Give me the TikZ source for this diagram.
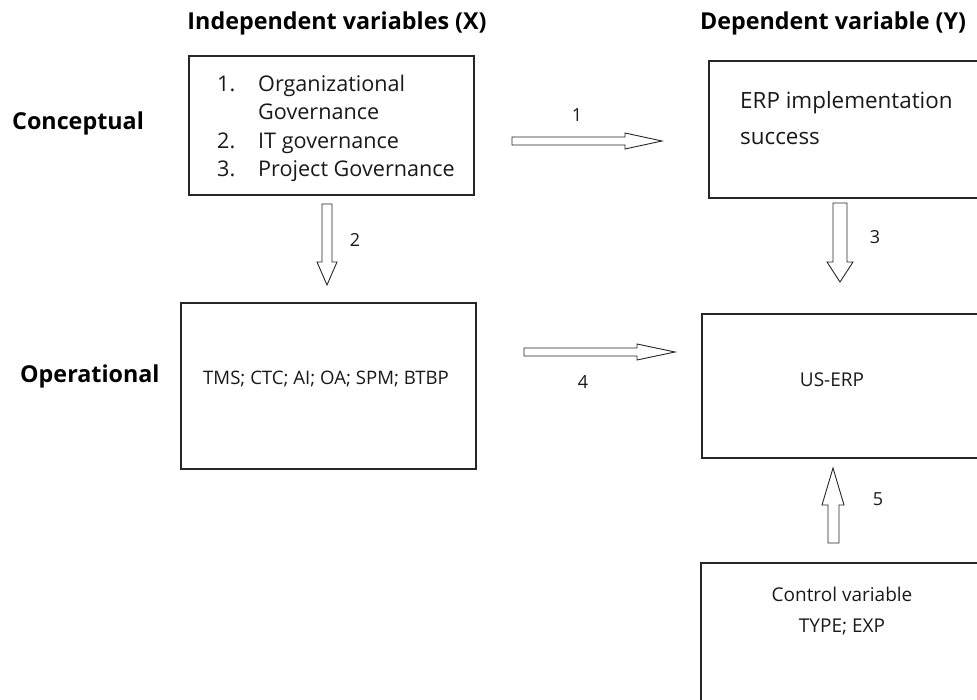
\documentclass[tikz,border=0pt]{standalone}
\usepackage{fontspec}
\setmainfont{Open Sans}
\begin{document}
\begin{tikzpicture}[x=1pt,y=-1pt,
  box/.style={draw=black!85, line width=1.2pt, rectangle, inner sep=0pt},
  blockarrow/.style={draw=black!85, line width=0.9pt, fill=white, line join=miter},
  heading/.style={font=\fontsize{23.3}{28}\selectfont\bfseries, text=black, inner sep=0pt},
  body/.style={font=\fontsize{19}{23}\selectfont, text=black!90, inner sep=0pt},
  num/.style={font=\fontsize{18}{22}\selectfont, text=black!90, inner sep=0pt}]
\useasboundingbox (0,0) rectangle (977,700);
\clip (0,0) rectangle (977,700);

% column and row headings
\node[heading] (hx) at (337,23) {Independent variables (X)};
\node[heading] (hy) at (833,23) {Dependent variable (Y)};
\node[heading, anchor=west] (hc) at (12,123) {Conceptual};
\node[heading, anchor=west] (ho) at (20,376) {Operational};

% boxes
\node[box, minimum width=285, minimum height=139] (indep) at (331.5,125.5) {};
\node[box, minimum width=295, minimum height=166] (oper) at (328.5,386) {};
\node[box, minimum width=300, minimum height=137] (erp) at (859,129.5) {};
\node[box, minimum width=300, minimum height=144] (userp) at (852,386) {};
\node[box, minimum width=300, minimum height=180] (ctrl) at (851,653) {};

% box contents
\node[body, font=\fontsize{21.6}{28.5}\selectfont, anchor=north west] (list) at (217,71)
  {\begin{tabular}{@{}p{41pt}@{}l@{}}
   1. & Organizational\\
      & Governance\\
   2. & IT governance\\
   3. & Project Governance
   \end{tabular}};
\node[body, font=\fontsize{22.4}{27}\selectfont, anchor=base west] (erptext) at (740,109)
  {ERP implementation};
\node[body, font=\fontsize{22.4}{27}\selectfont, anchor=base west] (erptext2) at (740,145)
  {success};
\node[body, font=\fontsize{18.6}{22}\selectfont, anchor=west] (optext) at (203,379) {TMS; CTC; AI; OA; SPM; BTBP};
\node[body] (ustext) at (832,380) {US-ERP};
\node[body] (ctext) at (842,594) {Control variable};
\node[body] (ctext2) at (842,627) {TYPE; EXP};

% block arrows
% 1: conceptual X -> Y
\draw[blockarrow] (512,137) -- (625,137) -- (625,133) -- (662,141) -- (625,149) -- (625,145) -- (512,145) -- cycle;
% 2: conceptual X -> operational X
\draw[blockarrow] (322,204) -- (332,204) -- (332,262) -- (337,262) -- (327,285) -- (317,262) -- (322,262) -- cycle;
% 3: conceptual Y -> operational Y
\draw[blockarrow] (833,203) -- (847,203) -- (847,262) -- (853,262) -- (840,282) -- (827,262) -- (833,262) -- cycle;
% 4: operational X -> operational Y
\draw[blockarrow] (524,348) -- (637,348) -- (637,344) -- (675,352) -- (637,360) -- (637,356) -- (524,356) -- cycle;
% 5: control variable -> US-ERP
\draw[blockarrow] (828,543) -- (839,543) -- (839,505) -- (844,505) -- (833,468) -- (822,505) -- (828,505) -- cycle;

% arrow labels
\node[num] (n1) at (577,115) {1};
\node[num] (n2) at (355,240) {2};
\node[num] (n3) at (875,237) {3};
\node[num] (n4) at (583,382) {4};
\node[num] (n5) at (878,499) {5};
\end{tikzpicture}
\end{document}
